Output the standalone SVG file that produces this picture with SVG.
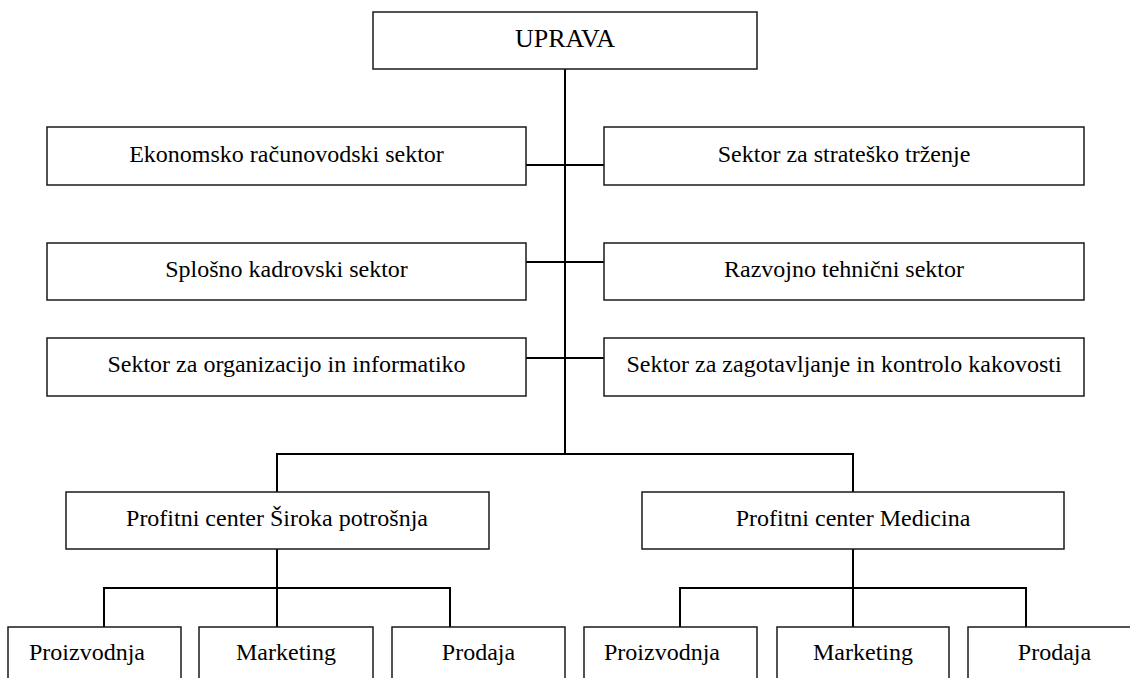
<svg xmlns="http://www.w3.org/2000/svg" width="1130" height="678" viewBox="0 0 1130 678">
<style>
.box{fill:#fff;stroke:#1a1a1a;stroke-width:1.5}
.lbl{font-family:"Liberation Serif","Times New Roman",serif;font-size:24px;fill:#000;text-anchor:middle}
.big{font-size:26px}
.start{text-anchor:start}
.conn{fill:none;stroke:#000;stroke-width:2}
</style>
<rect x="0" y="0" width="1130" height="678" fill="#fff"/>
<g id="connectors">
<path class="conn" d="M565,69 V454"/>
<path class="conn" d="M526,165 H604"/>
<path class="conn" d="M526,262 H604"/>
<path class="conn" d="M526,358 H604"/>
<path class="conn" d="M277,492 V454 H853 V492"/>
<path class="conn" d="M277,549 V627"/>
<path class="conn" d="M104,627 V588 H450 V627"/>
<path class="conn" d="M853,549 V627"/>
<path class="conn" d="M680,627 V588 H1026 V627"/>
</g>
<g id="uprava">
<rect class="box" x="373" y="12" width="384" height="57"/>
<text class="lbl big" x="565" y="47">UPRAVA</text>
</g>
<g id="ekonomsko">
<rect class="box" x="47" y="127" width="479" height="58"/>
<text class="lbl" x="286.5" y="162">Ekonomsko računovodski sektor</text>
</g>
<g id="strateske">
<rect class="box" x="604" y="127" width="480" height="58"/>
<text class="lbl" x="844" y="162">Sektor za strateško trženje</text>
</g>
<g id="splosno">
<rect class="box" x="47" y="243" width="479" height="57"/>
<text class="lbl" x="286.5" y="277">Splošno kadrovski sektor</text>
</g>
<g id="razvojno">
<rect class="box" x="604" y="243" width="480" height="57"/>
<text class="lbl" x="844" y="277">Razvojno tehnični sektor</text>
</g>
<g id="organizacija">
<rect class="box" x="47" y="338" width="479" height="58"/>
<text class="lbl" x="286.5" y="372">Sektor za organizacijo in informatiko</text>
</g>
<g id="kakovost">
<rect class="box" x="604" y="338" width="480" height="58"/>
<text class="lbl" x="844" y="372">Sektor za zagotavljanje in kontrolo kakovosti</text>
</g>
<g id="pc-siroka">
<rect class="box" x="66" y="492" width="423" height="57"/>
<text class="lbl" x="277" y="526">Profitni center Široka potrošnja</text>
</g>
<g id="pc-medicina">
<rect class="box" x="642" y="492" width="422" height="57"/>
<text class="lbl" x="853" y="526">Profitni center Medicina</text>
</g>
<g id="l-proizvodnja">
<rect class="box" x="8" y="627" width="173" height="70"/>
<text class="lbl start" x="29" y="660">Proizvodnja</text>
</g>
<g id="l-marketing">
<rect class="box" x="199" y="627" width="174" height="70"/>
<text class="lbl" x="286" y="660">Marketing</text>
</g>
<g id="l-prodaja">
<rect class="box" x="392" y="627" width="173" height="70"/>
<text class="lbl" x="478.5" y="660">Prodaja</text>
</g>
<g id="r-proizvodnja">
<rect class="box" x="584" y="627" width="173" height="70"/>
<text class="lbl start" x="604" y="660">Proizvodnja</text>
</g>
<g id="r-marketing">
<rect class="box" x="777" y="627" width="172" height="70"/>
<text class="lbl" x="863" y="660">Marketing</text>
</g>
<g id="r-prodaja">
<rect class="box" x="968" y="627" width="173" height="70"/>
<text class="lbl" x="1054.5" y="660">Prodaja</text>
</g>
</svg>
